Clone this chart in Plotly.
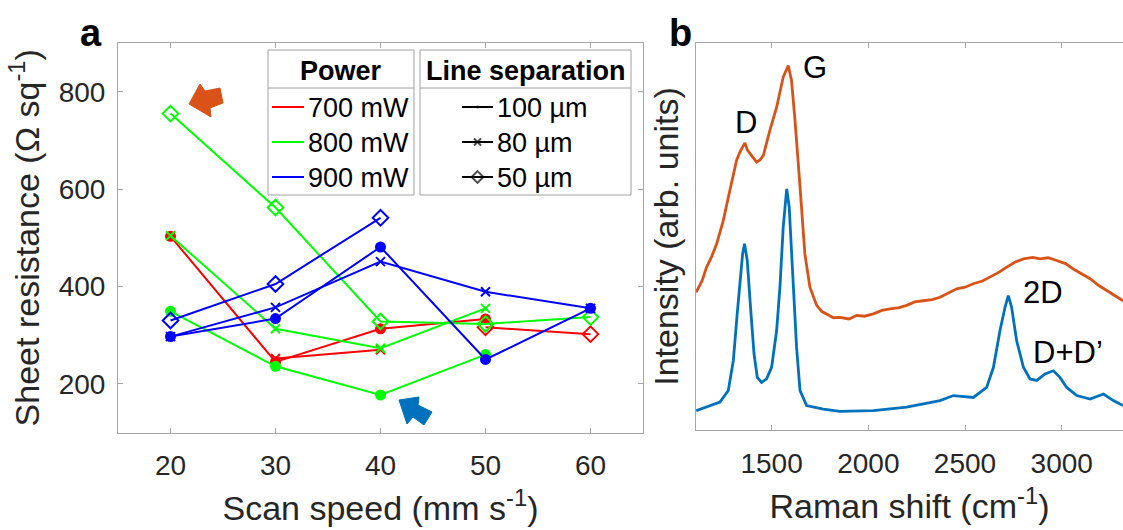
import plotly.graph_objects as go

# ---------------- data: panel a ----------------
speed = [20, 30, 40, 50, 60]
power_labels = ["700 mW", "800 mW", "900 mW"]
sep_labels = ["100 µm", "80 µm", "50 µm"]

r700_100 = [503, 245, 313, 333, None]
r700_80 = [None, 252, 270, None, None]
r700_50 = [None, None, None, 316, 302]
g800_100 = [349, 236, 177, 260, None]
g800_80 = [504, 313, 273, 355, None]
g800_50 = [755, 562, 328, 323, 337]
b900_100 = [297, 334, 481, 250, 355]
b900_80 = [297, 357, 451, 389, 355]
b900_50 = [330, 405, 541, None, None]

# ---------------- data: panel b ----------------
shift_top = [1110, 1140, 1164, 1190, 1216, 1250, 1284, 1319, 1336, 1350, 1362, 1375, 1388,
             1405, 1422, 1440, 1457, 1491, 1526, 1560, 1575, 1586, 1603, 1621, 1647, 1672,
             1698, 1733, 1760, 1784, 1820, 1853, 1900, 1940, 1980, 2026, 2070, 2112, 2160,
             2198, 2240, 2284, 2330, 2371, 2420, 2457, 2500, 2543, 2590, 2629, 2670, 2716,
             2760, 2802, 2850, 2888, 2930, 2974, 3020, 3060, 3100, 3147, 3190, 3233, 3280,
             3317]
int_top = [35.6, 38.5, 42.1, 44.8, 48.1, 54.1, 61.9, 69.7, 71.8, 73.0, 74.2, 72.3, 71.4,
           70.2, 69.2, 69.8, 70.9, 77.4, 83.4, 91.2, 92.8, 94.2, 90.3, 80.0, 62.8, 45.5,
           36.9, 32.2, 30.6, 30.0, 29.0, 29.1, 28.7, 29.6, 29.4, 30.0, 30.9, 31.3, 31.6,
           32.2, 33.1, 33.4, 33.7, 34.3, 35.6, 36.5, 36.9, 37.8, 38.5, 39.5, 40.6, 42.1,
           43.4, 44.2, 44.6, 44.2, 44.5, 43.8, 43.0, 41.6, 40.5, 39.1, 37.4, 36.0, 34.5,
           33.4]
shift_bot = [1110, 1164, 1233, 1276, 1302, 1322, 1336, 1350, 1360, 1374, 1391, 1409,
             1426, 1448, 1474, 1500, 1526, 1543, 1560, 1578, 1591, 1609, 1629, 1647,
             1681, 1767, 1853, 2026, 2198, 2371, 2440, 2543, 2612, 2647, 2681, 2707,
             2724, 2741, 2767, 2802, 2836, 2871, 2914, 2957, 2991, 3026, 3078, 3147,
             3216, 3267, 3317]
int_bot = [5.0, 5.9, 7.2, 10.2, 17.9, 30.0, 38.6, 45.5, 48.1, 43.8, 31.7, 19.7,
           13.6, 12.3, 13.2, 16.2, 25.7, 36.9, 52.4, 62.3, 57.6, 38.6, 21.4, 10.2,
           6.3, 5.4, 4.8, 5.0, 5.9, 7.6, 8.9, 8.4, 11.0, 16.2, 25.7, 31.7,
           34.7, 31.7, 23.1, 16.2, 13.2, 12.8, 14.5, 15.3, 13.6, 11.0, 8.9, 8.0,
           9.3, 7.6, 6.3]
peak_labels = ["G", "D", "2D", "D+D’"]
peak_x = [1725, 1367, 2904, 3032]
peak_y = [93.7, 79.5, 35.5, 20.0]

# ---------------- geometry / style ----------------
W, H = 1123, 530
FONT = "Liberation Sans, Arial, sans-serif"
TXT = "#262626"
AX = "#a6a6a6"
TITLE_SIZE = 34

def px(x0, x1):
    return [x0 / W, x1 / W]

def py(y_top, y_bot):
    return [1 - y_bot / H, 1 - y_top / H]

colors = {"700": "#ff0000", "800": "#00ff00", "900": "#0000ff"}
marker_style = {
    "100": dict(symbol="circle", size=11),
    "80": dict(symbol="x-thin", size=9),
    "50": dict(symbol="diamond-open", size=12),
}

fig = go.Figure()

series = [
    ("700", "100", r700_100), ("700", "80", r700_80), ("700", "50", r700_50),
    ("800", "100", g800_100), ("800", "80", g800_80), ("800", "50", g800_50),
    ("900", "100", b900_100), ("900", "80", b900_80), ("900", "50", b900_50),
]
for p, s, vals in series:
    c = colors[p]
    ms = marker_style[s]
    fig.add_trace(go.Scatter(
        x=speed, y=vals, mode="lines+markers", connectgaps=False,
        line=dict(color=c, width=2),
        marker=dict(symbol=ms["symbol"], size=ms["size"], color=c,
                    line=dict(color=c, width=0 if s == "100" else 2)),
        xaxis="x", yaxis="y", showlegend=False, hoverinfo="skip"))

fig.add_trace(go.Scatter(x=shift_top, y=int_top, mode="lines",
                         line=dict(color="#D95319", width=2.8),
                         xaxis="x2", yaxis="y2", showlegend=False, hoverinfo="skip"))
fig.add_trace(go.Scatter(x=shift_bot, y=int_bot, mode="lines",
                         line=dict(color="#0072BD", width=2.8),
                         xaxis="x2", yaxis="y2", showlegend=False, hoverinfo="skip"))

# ---------------- legend glyphs (overlay pixel axes) ----------------
pow_rows = [107, 142, 177]
for i, p in enumerate(["700", "800", "900"]):
    fig.add_trace(go.Scatter(x=[272, 304], y=[pow_rows[i]] * 2, mode="lines",
                             line=dict(color=colors[p], width=2),
                             xaxis="x3", yaxis="y3", showlegend=False, hoverinfo="skip"))
leg_sym = [("circle", 3), ("x-thin", 7), ("diamond-open", 9)]
for i, (sym, sz) in enumerate(leg_sym):
    fig.add_trace(go.Scatter(x=[462, 477.5, 493], y=[pow_rows[i]] * 3, mode="lines+markers",
                             line=dict(color="black", width=2),
                             marker=dict(symbol=sym, size=[0, sz, 0], color="black",
                                         line=dict(color="black", width=0 if i == 0 else 2)),
                             xaxis="x3", yaxis="y3", showlegend=False, hoverinfo="skip"))

shapes = []
for (x0, x1) in [(268, 414), (420, 631)]:
    shapes.append(dict(type="rect", xref="x3", yref="y3", x0=x0, x1=x1, y0=50, y1=195,
                       line=dict(color="#a0a0a0", width=1)))
    shapes.append(dict(type="line", xref="x3", yref="y3", x0=x0, x1=x1, y0=88, y1=88,
                       line=dict(color="#a0a0a0", width=1)))
# highlight arrows
shapes.append(dict(type="path", xref="x3", yref="y3",
                   path="M189,104 L200,84 L205,91 L220,88 L223,103 L210,108 L211,117 Z",
                   fillcolor="#D95319", line=dict(color="#D95319", width=1)))
shapes.append(dict(type="path", xref="x3", yref="y3",
                   path="M399,400 L419,397 L418,405 L432,412 L424,425 L413,417 L407,424 Z",
                   fillcolor="#0072BD", line=dict(color="#0072BD", width=1)))

ann = []
ann.append(dict(text="<b>Power</b>", x=341, y=71, xref="x3", yref="y3", showarrow=False,
                font=dict(size=27, color="black", family=FONT)))
ann.append(dict(text="<b>Line separation</b>", x=526, y=71, xref="x3", yref="y3", showarrow=False,
                font=dict(size=27, color="black", family=FONT)))
for i, lab in enumerate(power_labels):
    ann.append(dict(text=lab, x=306, y=pow_rows[i] + 1, xref="x3", yref="y3", showarrow=False,
                    xanchor="left", font=dict(size=27, color="black", family=FONT)))
for i, lab in enumerate(sep_labels):
    ann.append(dict(text=lab, x=495, y=pow_rows[i] + 1, xref="x3", yref="y3", showarrow=False,
                    xanchor="left", font=dict(size=27, color="black", family=FONT)))
for t, xv, yv in zip(peak_labels, peak_x, peak_y):
    ann.append(dict(text=t, x=xv, y=yv, xref="x2", yref="y2", showarrow=False,
                    font=dict(size=31, color="black", family=FONT)))
ann.append(dict(text="<b>a</b>", x=91, y=33, xref="x3", yref="y3", showarrow=False,
                font=dict(size=38, color="black", family=FONT)))
ann.append(dict(text="<b>b</b>", x=680, y=33, xref="x3", yref="y3", showarrow=False,
                font=dict(size=38, color="black", family=FONT)))

axis_common = dict(showgrid=False, zeroline=False, showline=True, linecolor=AX, linewidth=1,
                   ticks="inside", ticklen=5, tickcolor=AX, mirror="ticks",
                   tickfont=dict(size=28, color=TXT, family=FONT), automargin=False)

fig.update_layout(
    width=W, height=H, margin=dict(l=0, r=0, t=0, b=0),
    paper_bgcolor="white", plot_bgcolor="rgba(0,0,0,0)",
    showlegend=False,
    xaxis=dict(domain=px(118, 643), range=[15, 65], tickvals=speed, anchor="y",
               title=dict(text="Scan speed (mm s<sup>-1</sup>)", standoff=16,
                          font=dict(size=TITLE_SIZE, color=TXT, family=FONT)),
               ticklabelstandoff=8, **axis_common),
    yaxis=dict(domain=py(43, 432.5), range=[100, 900], tickvals=[200, 400, 600, 800], anchor="x",
               title=dict(text="Sheet resistance (Ω sq<sup>-1</sup>)", standoff=8,
                          font=dict(size=TITLE_SIZE, color=TXT, family=FONT)),
               ticklabelstandoff=6, **axis_common),
    xaxis2=dict(domain=px(696, W), range=[1109, 3317], tickvals=[1500, 2000, 2500, 3000],
                anchor="y2",
                title=dict(text="Raman shift (cm<sup>-1</sup>)", standoff=16,
                           font=dict(size=TITLE_SIZE, color=TXT, family=FONT)),
                ticklabelstandoff=8, **axis_common),
    yaxis2=dict(domain=py(43, 430), range=[0, 100], anchor="x2", showgrid=False, zeroline=False,
                showline=True, linecolor=AX, linewidth=1, ticks="", showticklabels=False,
                automargin=False,
                title=dict(text="Intensity (arb. units)", standoff=6,
                           font=dict(size=TITLE_SIZE, color=TXT, family=FONT))),
    xaxis3=dict(domain=[0, 1], range=[0, W], visible=False, anchor="y3", fixedrange=True),
    yaxis3=dict(domain=[0, 1], range=[H, 0], visible=False, anchor="x3", fixedrange=True),
    shapes=shapes, annotations=ann,
)

fig.write_html("out.html")
